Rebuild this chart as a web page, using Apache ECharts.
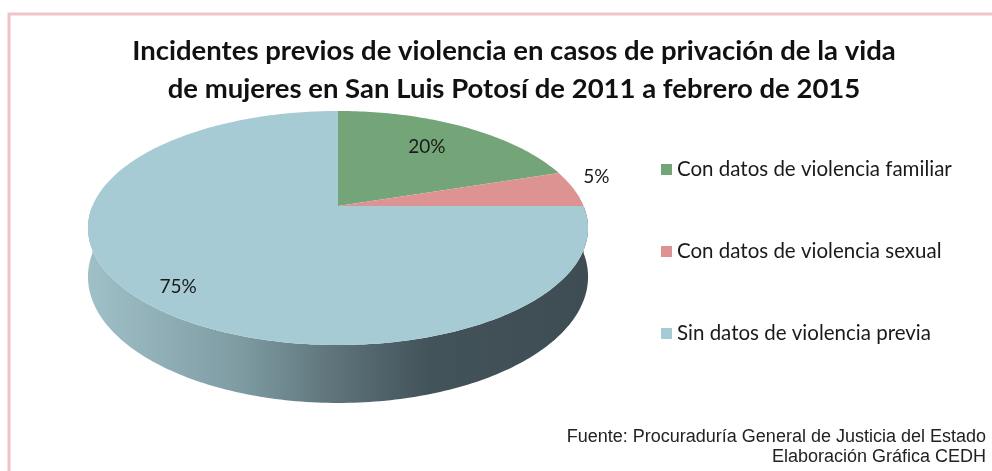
<!DOCTYPE html>
<html>
<head>
<meta charset="utf-8">
<script src="https://cdn.jsdelivr.net/npm/echarts@6/dist/echarts.min.js"></script>
<style>
    html, body { margin: 0; padding: 0; background: #ffffff; }
    #main { width: 992px; height: 471px; }
</style>
</head>
<body>
<div id="main"></div>
<script>
var categories = ['Con datos de violencia familiar', 'Con datos de violencia sexual', 'Sin datos de violencia previa'];
var values = [20, 5, 75];
var sliceLabels = ['20%', '5%', '75%'];
var colors = ['#73a578', '#de9393', '#a6cbd4'];

// 3D pie geometry (perspective look of the original spreadsheet chart)
var CX = 338, CY = 206, RX = 245.6, RY = 112.9, K = 0.188, DEPTH = 47;
var total = values.reduce(function (a, b) { return a + b; }, 0);

function proj(theta, r, drop) {
    var u = Math.sin(theta) * r;
    var v = -Math.cos(theta) * r;
    var s = 1 / (1 - K * v);
    return [CX + RX * u * s, CY + RY * v * s + drop * s];
}

function arcPoints(a0, a1, drop) {
    var pts = [];
    var n = Math.max(2, Math.ceil((a1 - a0) / (Math.PI / 180)));
    for (var i = 0; i <= n; i++) {
        pts.push(proj(a0 + (a1 - a0) * i / n, 1, drop));
    }
    return pts;
}

var sideFill = new echarts.graphic.LinearGradient(88, 0, 588, 0, [
    { offset: 0, color: '#a0c0c8' },
    { offset: 0.3, color: '#7f9ca3' },
    { offset: 0.5, color: '#5d7279' },
    { offset: 0.68, color: '#43535a' },
    { offset: 1, color: '#3e4d53' }
], true);

function renderSlice(params, api) {
    var idx = params.seriesIndex;
    var before = 0;
    for (var i = 0; i < idx; i++) before += values[i];
    var a0 = before / total * Math.PI * 2;
    var a1 = (before + values[idx]) / total * Math.PI * 2;
    var children = [];

    // visible side band (front half)
    var s0 = Math.max(a0, Math.PI / 2), s1 = Math.min(a1, Math.PI * 1.5);
    if (s1 > s0) {
        var side = arcPoints(s0, s1, 0).concat(arcPoints(s0, s1, DEPTH).reverse());
        children.push({ type: 'polygon', shape: { points: side }, style: { fill: sideFill } });
    }

    // top face
    var top = [proj(0, 0, 0)].concat(arcPoints(a0, a1, 0));
    children.push({ type: 'polygon', shape: { points: top }, style: { fill: colors[idx] } });

    // label
    var mid = (a0 + a1) / 2;
    var pos;
    if (values[idx] < 10) {
        pos = proj(mid, 1.1, 0);
        pos[1] -= 10;
    } else {
        pos = proj(mid, values[idx] > 50 ? 0.82 : 0.68, 0);
        pos[1] += values[idx] > 50 ? 7 : -3;
    }
    children.push({
        type: 'text', x: pos[0], y: pos[1],
        style: {
            text: sliceLabels[idx], fill: '#1a1a1a',
            fontSize: 19, fontFamily: 'Lato', align: 'center', verticalAlign: 'middle'
        }
    });
    return { type: 'group', children: children };
}

var chart = echarts.init(document.getElementById('main'));

chart.setOption({
    backgroundColor: '#ffffff',
    animation: false,
    title: {
        text: 'Incidentes previos de violencia en casos de privación de la vida\nde mujeres en San Luis Potosí de 2011 a febrero de 2015',
        left: 509,
        top: 27,
        textAlign: 'center',
        textStyle: {
            fontFamily: 'Lato',
            fontWeight: 'bold',
            fontSize: 27.5,
            lineHeight: 38,
            color: '#111111'
        }
    },
    legend: {
        orient: 'vertical',
        left: 656,
        top: 154,
        icon: 'rect',
        itemWidth: 11,
        itemHeight: 11,
        itemGap: 61,
        data: categories,
        textStyle: { fontFamily: 'Lato', fontSize: 20.5, color: '#1a1a1a' }
    },
    graphic: [
        {
            type: 'rect', silent: true,
            shape: { x: 9, y: 14, width: 1000, height: 480 },
            style: { fill: null, stroke: '#efc3c7', lineWidth: 3 }
        },
        {
            type: 'text', x: 986, y: 437,
            style: {
                text: 'Fuente: Procuraduría General de Justicia del Estado',
                fontFamily: 'Liberation Sans', fontSize: 18,
                fill: '#222222', align: 'right', verticalAlign: 'middle'
            }
        },
        {
            type: 'text', x: 986, y: 457,
            style: {
                text: 'Elaboración Gráfica CEDH',
                fontFamily: 'Liberation Sans', fontSize: 18,
                fill: '#222222', align: 'right', verticalAlign: 'middle'
            }
        }
    ],
    series: categories.map(function (name, i) {
        return {
            type: 'custom',
            name: name,
            coordinateSystem: 'none',
            itemStyle: { color: colors[i] },
            renderItem: renderSlice,
            data: [[values[i]]]
        };
    })
});
</script>
</body>
</html>
